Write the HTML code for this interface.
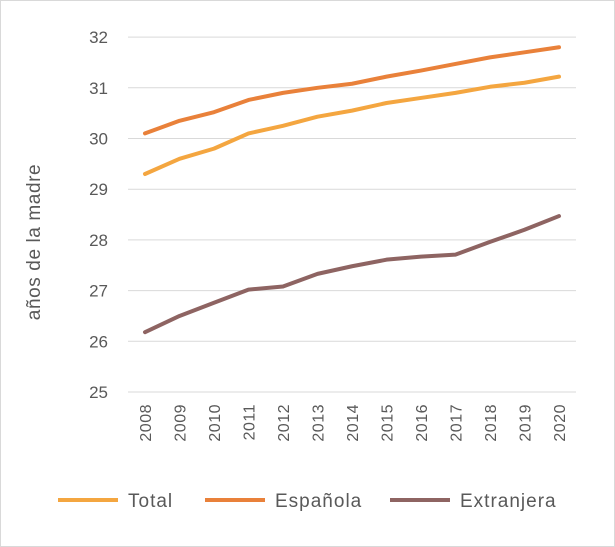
<!DOCTYPE html>
<html><head><meta charset="utf-8"><style>
body{margin:0;background:#fff}
svg{display:block;font-family:"Liberation Sans",sans-serif}
</style></head><body>
<svg width="615" height="547">
<rect x="0.5" y="0.5" width="614" height="546" fill="#fff" stroke="#d9d9d9"/>
<g id="grid"></g><g id="yt"></g><g id="xt"></g><g id="lines"></g>
<text transform="translate(40,242) rotate(-90)" text-anchor="middle" font-size="19" letter-spacing="0.6" fill="#595959">años de la madre</text>
<g id="legend"></g>
</svg>
<script>
const years=["2008","2009","2010","2011","2012","2013","2014","2015","2016","2017","2018","2019","2020"];
const total=[29.3,29.6,29.8,30.1,30.25,30.43,30.55,30.7,30.8,30.9,31.02,31.1,31.22];
const espanola=[30.1,30.35,30.52,30.76,30.9,31.0,31.08,31.22,31.34,31.47,31.6,31.7,31.8];
const extranjera=[26.18,26.5,26.76,27.02,27.08,27.33,27.48,27.61,27.67,27.71,27.96,28.2,28.47];
const yTicks=[25,26,27,28,29,30,31,32];
const seriesNames=["Total","Española","Extranjera"];
const colors=["#F4A640","#E9813A","#8E6462"];
const NS="http://www.w3.org/2000/svg";
const y=v=>392-(v-25)*50.7;
const x=i=>145+i*34.5;
function mk(t,a,p){const e=document.createElementNS(NS,t);for(const k in a)e.setAttribute(k,a[k]);p.appendChild(e);return e;}
const g=document.getElementById('grid'),yt=document.getElementById('yt'),xt=document.getElementById('xt'),L=document.getElementById('lines'),lg=document.getElementById('legend');
yTicks.forEach(v=>{
 const l=mk('line',{x1:128,x2:576,y1:y(v),y2:y(v),stroke:'#d9d9d9','stroke-width':1},g);
 
 
 const t=mk('text',{x:108,y:y(v)+6,'text-anchor':'end','font-size':17,fill:'#595959'},yt);t.textContent=v;
 
 
});
years.forEach((yr,i)=>{
 const t=mk('text',{transform:`translate(${x(i)+6},404) rotate(-90)`,'text-anchor':'end','font-size':16,'letter-spacing':0.5,fill:'#595959'},xt);t.textContent=yr;
 
 
});
[total,espanola,extranjera].forEach((s,k)=>{
 const p=mk('polyline',{points:s.map((v,i)=>x(i)+','+y(v)).join(' '),fill:'none',stroke:colors[k],'stroke-width':4,'stroke-linejoin':'round','stroke-linecap':'round'},L);
 
 
});
const lx=[58,205,390];
seriesNames.forEach((n,k)=>{
 const l=mk('line',{x1:lx[k],x2:lx[k]+60,y1:500,y2:500,stroke:colors[k],'stroke-width':4},lg);
 
 
 const t=mk('text',{x:lx[k]+70,y:507,'font-size':19,'letter-spacing':1,fill:'#595959'},lg);t.textContent=n;
 
 
});
</script>
</body></html>
